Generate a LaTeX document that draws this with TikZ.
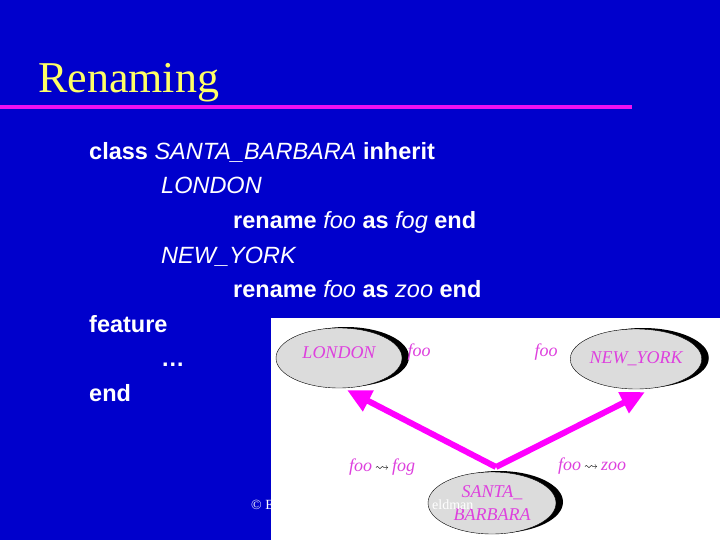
\documentclass[tikz,border=0pt]{standalone}
\usepackage{amssymb}
\usepackage{fontspec}
\setmainfont{Liberation Serif}
\setsansfont{Liberation Sans}
\usetikzlibrary{shapes.geometric,shadows,arrows.meta}
\definecolor{slideblue}{RGB}{0,0,204}
\definecolor{rulepink}{RGB}{240,16,240}
\definecolor{titleyellow}{RGB}{255,255,102}
\definecolor{classpink}{RGB}{222,64,222}
\definecolor{arrowpink}{RGB}{255,0,255}
\definecolor{nodegray}{RGB}{220,220,220}
\newcommand{\ital}[1]{{\mdseries\itshape #1}}
\newcommand{\renam}[2]{#1\,{\color{black}\upshape\fontsize{14}{16}\selectfont$\leadsto$}\,#2}
\tikzset{
  codeline/.style={anchor=base west,inner sep=0pt,text=white,font=\sffamily\bfseries\fontsize{23.5}{28}\selectfont},
  classnode/.style={ellipse,draw=black,fill=nodegray,minimum width=126pt,minimum height=60pt,inner sep=0pt,
    text=classpink,align=center,font=\itshape\fontsize{18}{23}\selectfont,
    drop shadow={shadow xshift=7pt,shadow yshift=1pt,fill=black,opacity=1}},
  featlabel/.style={inner sep=0pt,text=classpink,font=\itshape\fontsize{18}{22}\selectfont},
  inharrow/.style={draw=arrowpink,line width=6pt,-{Triangle[length=24pt,width=22pt]}},
  footer/.style={anchor=west,inner sep=0pt,text=white,font=\fontsize{14}{16}\selectfont}
}

\begin{document}
\begin{tikzpicture}[x=1pt,y=-1pt]
  \useasboundingbox (0,0) rectangle (720,540);
  \fill[slideblue] (0,0) rectangle (720,540);
  % title
  \node[anchor=base west,inner sep=0pt,text=titleyellow,font=\fontsize{44}{50}\selectfont](title)at(38,93){Renaming};
  \draw[rulepink,line width=4pt] (0,107) -- (632,107);
  % code text
  \node[codeline](l1)at(89,160){class \ital{SANTA\_BARBARA} inherit};
  \node[codeline](l2)at(161,194){\ital{LONDON}};
  \node[codeline](l3)at(233,228.5){rename \ital{foo} as \ital{fog} end};
  \node[codeline](l4)at(161,263){\ital{NEW\_YORK}};
  \node[codeline](l5)at(233,297.5){rename \ital{foo} as \ital{zoo} end};
  \node[codeline](l6)at(89,332){feature};
  \node[codeline](l7)at(161,366.5){…};
  \node[codeline](l8)at(89,401){end};
  \node[footer](copy)at(251,505){© E};
  % diagram
  \fill[white] (271,318) rectangle (720,540);
  \node[classnode,text depth=10pt](ldn)at(339,358){LONDON};
  \node[classnode,minimum width=128pt](nyk)at(636,359){NEW\_YORK};
  \node[classnode,minimum width=128pt,minimum height=62pt](sb)at(492,503){SANTA\_\\BARBARA};
  \node[featlabel](ldnfoo)at(419,352){foo};
  \node[featlabel](nykfoo)at(546,352){foo};
  \node[featlabel](fog)at(382,467){\renam{foo}{fog}};
  \node[featlabel](zoo)at(592,466){\renam{foo}{zoo}};
  \coordinate(apex)at(496,467);
  \coordinate(ldntip)at(347,390);
  \coordinate(nyktip)at(645,392);
  \draw[inharrow] (apex) -- (ldntip);
  \draw[inharrow] (apex) -- (nyktip);
  \node[footer](eld)at(432,505){eldman};
\end{tikzpicture}
\end{document}
